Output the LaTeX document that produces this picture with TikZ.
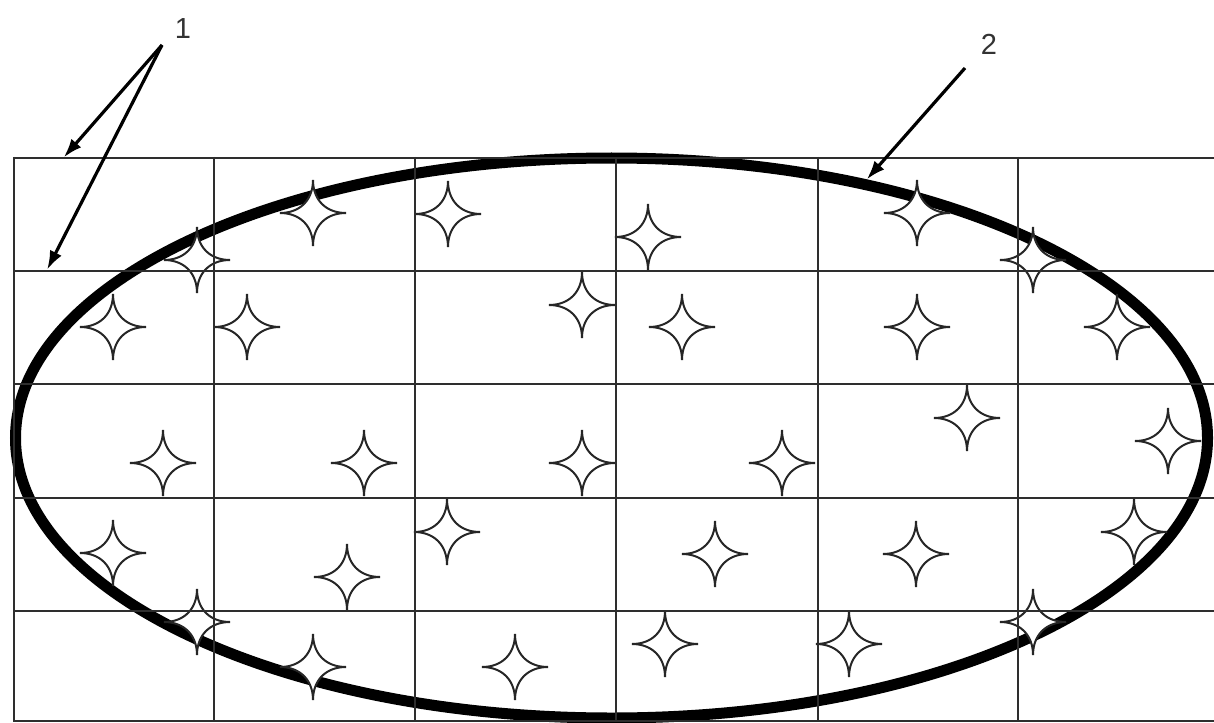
\documentclass[tikz,border=0pt]{standalone}
\usepackage{fontspec}
\setmainfont{Liberation Sans}
\usetikzlibrary{arrows.meta}
\definecolor{gridc}{HTML}{2E2E2E}
\definecolor{txtc}{HTML}{333333}
\tikzset{
  gridline/.style={draw=gridc,line width=2.4pt},
  ovalline/.style={draw=black,line width=11pt},
  starline/.style={draw=black!85,line width=2pt,fill=white,line join=miter},
  leader/.style={draw=black,line width=3.2pt,-{Latex[length=19pt,width=13pt]},shorten >=-2pt},
  numlabel/.style={text=txtc,font=\fontsize{29}{34}\selectfont,inner sep=0pt},
  star4/.pic={
    \path[starline] (0,33) .. controls (0,13) and (13,0) .. (33,0)
      .. controls (13,0) and (0,-13) .. (0,-33)
      .. controls (0,-13) and (-13,0) .. (-33,0)
      .. controls (-13,0) and (0,13) .. cycle;
  }
}
\begin{document}
\begin{tikzpicture}[x=1pt,y=-1pt]
\useasboundingbox (0,0) rectangle (1214,722);
\fill[white] (0,0) rectangle (1214,722);
% ellipse
\draw[ovalline] (611.5,438) ellipse [x radius=596, y radius=280];
% stars
\foreach \sx/\sy in {
  197/260, 313/213, 448/214, 648/237, 917/213, 1033/260,
  113/327, 247/327, 582/305, 682/327, 917/327, 1117/327,
  163/463, 364/463, 582/463, 782/463, 967/418, 1168/441,
  113/553, 347/577, 447/532, 715/554, 916/554, 1134/532,
  197/622, 313/667, 515/667, 665/644, 849/644, 1033/622}
  { \pic at (\sx,\sy) {star4}; }
% grid
\foreach \gy in {158,271,384,498,611,721}
  \draw[gridline] (14,\gy) -- (1214,\gy);
\foreach \gx in {14,214,415,616,818,1018}
  \draw[gridline] (\gx,157) -- (\gx,722);
% labels and leaders
\node[numlabel] (l1) at (183,29) {1};
\node[numlabel] (l2) at (989,44) {2};
\coordinate (s1) at (162,45);
\coordinate (s2) at (965,68);
\coordinate (t1a) at (65,156);
\coordinate (t1b) at (48,268);
\coordinate (t2) at (868,178);
\draw[leader] (s1) -- (t1a);
\draw[leader] (s1) -- (t1b);
\draw[leader] (s2) -- (t2);
\end{tikzpicture}
\end{document}
